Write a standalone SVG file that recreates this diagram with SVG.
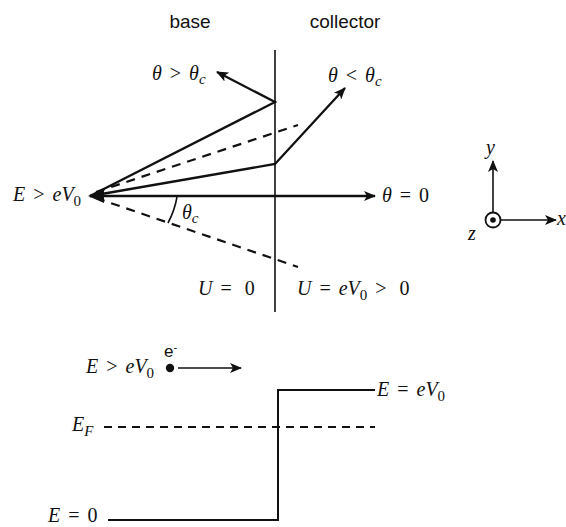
<svg xmlns="http://www.w3.org/2000/svg" width="566" height="527" viewBox="0 0 566 527">
<defs>
<style>
.sans{font-family:"Liberation Sans",Arial,sans-serif;font-size:19px;fill:#111}
.m{font-family:"Liberation Serif","Times New Roman",serif;font-style:italic;font-size:20px;fill:#111;word-spacing:3px}
.r{font-style:normal}
.sub{font-size:15px}
.ray{stroke:#111;stroke-width:2.3;fill:none}
.thin{stroke:#111;stroke-width:1.6;fill:none}
.dash{stroke:#111;stroke-width:2.2;fill:none;stroke-dasharray:9 7}
</style>
<marker id="ah" viewBox="0 0 12 10" refX="11" refY="5" markerWidth="12" markerHeight="10" markerUnits="userSpaceOnUse" orient="auto">
<path d="M0,0 L12,5 L0,10 L3,5 z" fill="#111"/>
</marker>
</defs>
<rect width="566" height="527" fill="#fff"/>

<g id="labels-top">
<text class="sans" x="190" y="28" text-anchor="middle">base</text>
<text class="sans" x="345" y="28" text-anchor="middle">collector</text>
</g>

<g id="interface">
<line class="thin" x1="275" y1="50" x2="275" y2="312"/>
</g>

<g id="connectors">
<line class="ray" x1="90" y1="196" x2="375" y2="196" marker-end="url(#ah)"/>
<polyline class="ray" points="90,196 275,102 217,72" marker-end="url(#ah)"/>
<polyline class="ray" points="90,196 275,164 345,88" marker-end="url(#ah)"/>
<line class="dash" x1="96" y1="192" x2="298" y2="125"/>
<line class="dash" x1="96" y1="198" x2="298" y2="267"/>
<path d="M88,196 L104,189 L104,203 z" fill="#111"/>
<path class="thin" d="M177,197 A87,87 0 0 1 168,223"/>
</g>

<g id="math-labels">
<text class="m" x="13" y="201">E<tspan class="r"> &gt; </tspan>eV<tspan class="r sub" dy="5">0</tspan></text>
<text class="m" x="152" y="80">θ<tspan class="r"> &gt; </tspan>θ<tspan class="sub" dy="4">c</tspan></text>
<text class="m" x="328" y="82">θ<tspan class="r"> &lt; </tspan>θ<tspan class="sub" dy="4">c</tspan></text>
<text class="m" x="382" y="202">θ<tspan class="r"> = 0</tspan></text>
<text class="m" x="182" y="219">θ<tspan class="sub" dy="4">c</tspan></text>
<text class="m" x="198" y="295">U<tspan class="r"> = </tspan><tspan class="r" dx="5">0</tspan></text>
<text class="m" x="297" y="295">U<tspan class="r"> = </tspan>eV<tspan class="r sub" dy="5">0</tspan><tspan class="r" dy="-5"> &gt; </tspan><tspan class="r" dx="5">0</tspan></text>
</g>

<g id="axes">
<line class="thin" x1="493" y1="212" x2="493" y2="161" marker-end="url(#ah)"/>
<line class="thin" x1="501" y1="220" x2="556" y2="220" marker-end="url(#ah)"/>
<circle cx="493" cy="220" r="7.5" fill="none" stroke="#111" stroke-width="1.8"/>
<circle cx="493" cy="220" r="2.8" fill="#111"/>
<text class="m" x="486" y="154">y</text>
<text class="m" x="557" y="225">x</text>
<text class="m" x="468" y="240">z</text>
</g>

<g id="energy-diagram">
<text class="m" x="86" y="373">E<tspan class="r"> &gt; </tspan>eV<tspan class="r sub" dy="5">0</tspan></text>
<text class="sans" x="164" y="357" style="font-size:17px">e<tspan dy="-6" style="font-size:11px">-</tspan></text>
<circle cx="170" cy="368" r="4.2" fill="#111"/>
<line class="thin" x1="178" y1="368" x2="241" y2="368" marker-end="url(#ah)"/>
<polyline class="ray" style="stroke-width:2" points="108,520 278,520 278,390 375,390"/>
<line class="dash" style="stroke-width:1.8;stroke-dasharray:8 6" x1="104" y1="427" x2="375" y2="427"/>
<text class="m" x="377" y="396">E<tspan class="r"> = </tspan>eV<tspan class="r sub" dy="5">0</tspan></text>
<text class="m" x="72" y="431">E<tspan class="sub" dy="5">F</tspan></text>
<text class="m" x="48" y="522">E<tspan class="r"> = 0</tspan></text>
</g>
</svg>
